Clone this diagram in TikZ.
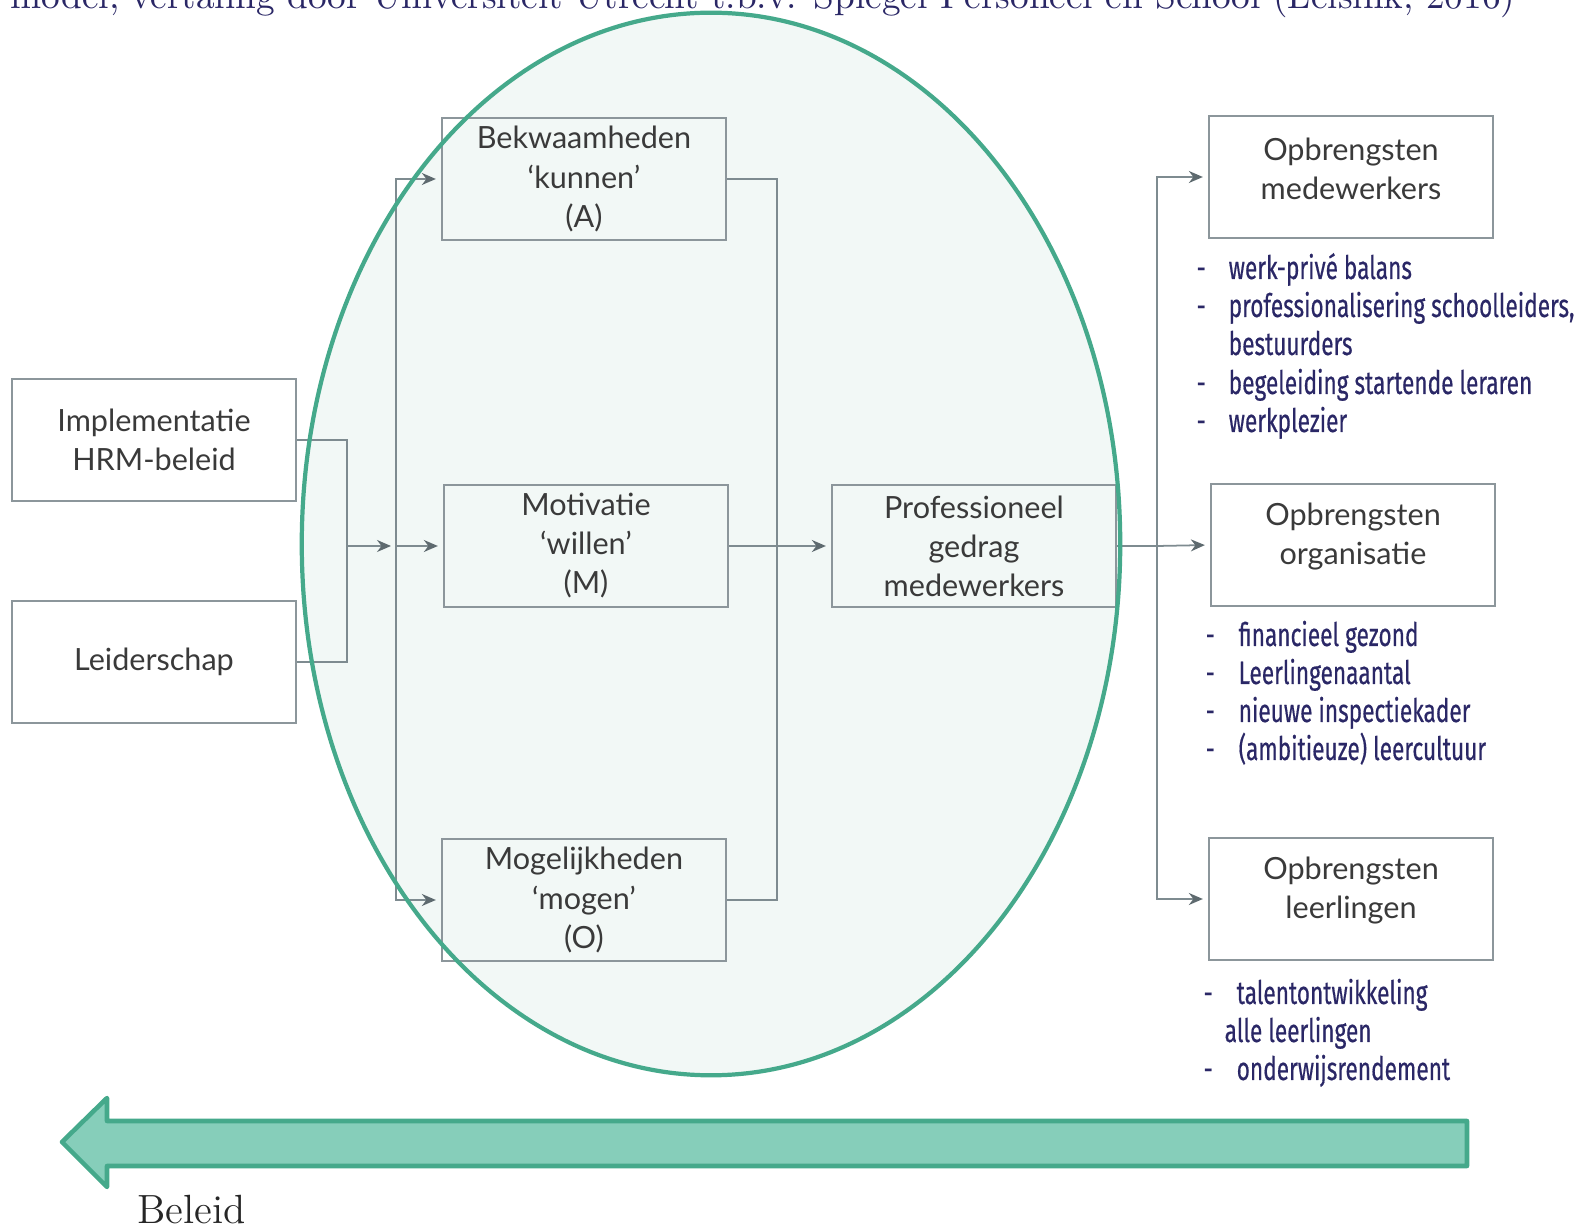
\documentclass[tikz,border=0pt]{standalone}
\usepackage{fontspec}
\usetikzlibrary{arrows.meta}
\newfontfamily\boxfont{Lato}
\newfontfamily\listfont[FakeStretch=0.70, FakeBold=0.45]{Fira Sans}
\definecolor{ovalline}{HTML}{45A98B}
\definecolor{ovalfill}{HTML}{F2F8F6}
\definecolor{arrowfill}{HTML}{86CEBA}
\definecolor{boxline}{HTML}{8C969B}
\definecolor{linkline}{HTML}{7E8B90}
\definecolor{tipcolor}{HTML}{5E6A6F}
\definecolor{navy}{HTML}{2A2766}
\definecolor{boxtext}{HTML}{3A3A3A}
\newcommand{\ovalx}{4.09cm}
\newcommand{\ovaly}{5.31cm}

\begin{document}
\begin{tikzpicture}[x=0.01cm, y=-0.01cm,
    block/.style={draw=boxline, line width=0.6pt, minimum width=2.84cm, minimum height=1.22cm,
        inner sep=0pt, align=center, text=boxtext, font=\boxfont\fontsize{8.7}{11.1}\selectfont},
    outcome/.style={block, label={[align=center, text=boxtext, font=\boxfont\fontsize{8.7}{11.1}\selectfont,
        inner sep=0pt, yshift=0.8mm]center:#1}},
    link/.style={draw=linkline, line width=0.5pt},
    tip/.style={link, -{Stealth[length=1.4mm, width=1.2mm, color=tipcolor]}, shorten >=0.5mm},
    item/.style={anchor=base west, inner sep=0pt, text=navy, font=\listfont\fontsize{9.2}{10.9}\selectfont}]
    \useasboundingbox (0,0) rectangle (1581,1228);
    \clip (0,0) rectangle (1581,1228);

    % oval
    \fill[ovalfill] (711,544) ellipse [x radius=\ovalx, y radius=\ovaly];

    % boxes
    \node[block] (impl) at (154,440) {Implementatie\\HRM-beleid};
    \node[block] (lead) at (154,662) {Leiderschap};
    \node[block] (bekw) at (584,179) {Bekwaamheden\\‘kunnen’\\(A)};
    \node[block] (moti) at (586,546) {Motivatie\\‘willen’\\(M)};
    \node[block] (moge) at (584,900) {Mogelijkheden\\‘mogen’\\(O)};
    \node[block] (prof) at (974,546) {Professioneel\\gedrag\\medewerkers};
    \node[outcome={Opbrengsten\\medewerkers}] (omed) at (1351,177) {};
    \node[outcome={Opbrengsten\\organisatie}] (oorg) at (1353,545) {};
    \node[outcome={Opbrengsten\\leerlingen}] (olee) at (1351,899) {};

    % connectors
    \coordinate (join) at (347,546);
    \coordinate (split) at (396,546);
    \coordinate (merge) at (777,546);
    \coordinate (fork) at (1157,546);
    \draw[link] (impl.east) -| (join);
    \draw[link] (lead.east) -| (join);
    \draw[tip] (join) -- (split);
    \draw[tip] (split) |- (bekw.west);
    \draw[tip] (split) -- (moti.west);
    \draw[tip] (split) |- (moge.west);
    \draw[link] (bekw.east) -| (merge);
    \draw[link] (moge.east) -| (merge);
    \draw[tip] (moti.east) -- (prof.west);
    \draw[link] (prof.east) -- (fork);
    \draw[tip] (fork) |- (omed.west);
    \draw[tip] (fork) -- (oorg.west);
    \draw[tip] (fork) |- (olee.west);

    \draw[ovalline, line width=1.2pt] (711,544) ellipse [x radius=\ovalx, y radius=\ovaly];

    % outcomes
    \node[item] (dmed1) at (1196,279) {-};
    \node[item] (med1) at (1228,279) {werk-privé balans};
    \node[item] (dmed2) at (1196,317) {-};
    \node[item] (med2) at (1228,317) {professionalisering schoolleiders,};
    \node[item] (med3) at (1228,355) {bestuurders};
    \node[item] (dmed4) at (1196,394) {-};
    \node[item] (med4) at (1228,394) {begeleiding startende leraren};
    \node[item] (dmed5) at (1196,432) {-};
    \node[item] (med5) at (1228,432) {werkplezier};

    \node[item] (dorg1) at (1205,646) {-};
    \node[item] (org1) at (1238,646) {financieel gezond};
    \node[item] (dorg2) at (1205,684) {-};
    \node[item] (org2) at (1238,684) {Leerlingenaantal};
    \node[item] (dorg3) at (1205,722) {-};
    \node[item] (org3) at (1238,722) {nieuwe inspectiekader};
    \node[item] (dorg4) at (1205,760) {-};
    \node[item] (org4) at (1238,760) {(ambitieuze) leercultuur};

    \node[item] (dlee1) at (1203,1004) {-};
    \node[item] (lee1) at (1236,1004) {talentontwikkeling};
    \node[item] (lee2) at (1224,1042) {alle leerlingen};
    \node[item] (dlee3) at (1203,1080) {-};
    \node[item] (lee3) at (1236,1080) {onderwijsrendement};

    % policy arrow
    \draw[ovalline, fill=arrowfill, line width=1.3pt, line join=round]
        (62,1142) -- (107,1098) -- (107,1121) -- (1467,1121) -- (1467,1166)
        -- (107,1166) -- (107,1187) -- cycle;
    \node[anchor=base west, inner sep=0pt, text=black!85, font=\fontsize{11.6}{14}\selectfont]
        (beleid) at (137,1223) {Beleid};
    \node[anchor=base west, inner sep=0pt, text=navy, font=\fontsize{10.6}{13}\selectfont]
        (source) at (10,9) {model, vertaling door Universiteit Utrecht t.b.v. Spiegel Personeel en School (Leisink, 2016)};
\end{tikzpicture}
\end{document}
